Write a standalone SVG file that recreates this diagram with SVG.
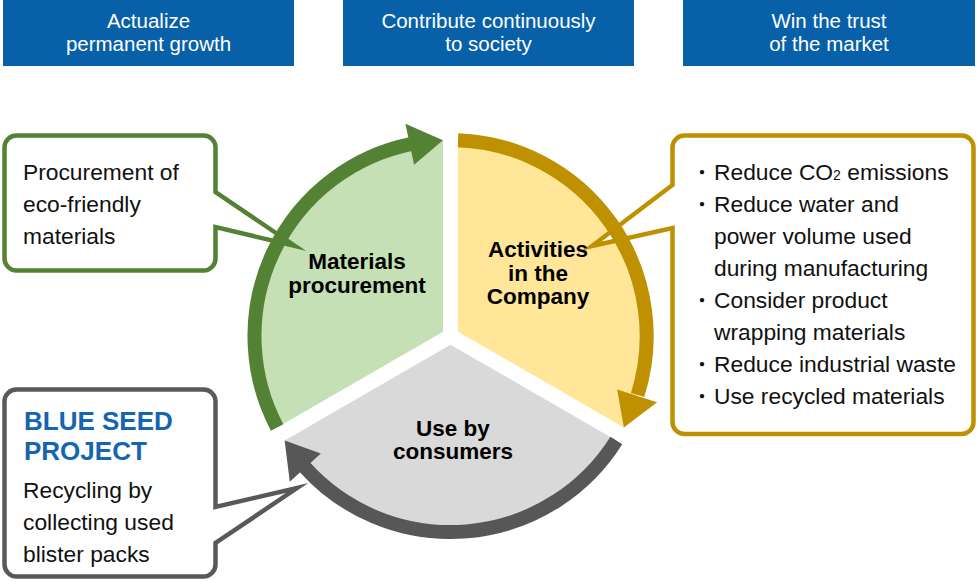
<svg xmlns="http://www.w3.org/2000/svg" width="977" height="582" viewBox="0 0 977 582">
<style>
.hdr{fill:#0860A8}
.ht{font-family:"Liberation Sans",Arial,sans-serif;font-size:20.5px;fill:#fff;text-anchor:middle}
.ct{font-family:"Liberation Sans",Arial,sans-serif;font-size:22.8px;fill:#111}
.lbl{font-family:"Liberation Sans",Arial,sans-serif;font-size:22.5px;font-weight:bold;fill:#000;text-anchor:middle}
.bul{font-family:"Noto Sans CJK JP",sans-serif;font-size:20px;fill:#111;text-anchor:middle}
.co{fill:#fff;stroke-width:4.5;stroke-linejoin:miter;stroke-miterlimit:12}
.band{fill:none;stroke-width:14}
</style>
<rect width="977" height="582" fill="#fff"/>
<g id="header-growth">
<rect class="hdr" x="3" y="0" width="291" height="66"/>
<text class="ht" x="148.5" y="28">Actualize</text>
<text class="ht" x="148.5" y="51">permanent growth</text>
</g>
<g id="header-society">
<rect class="hdr" x="343" y="0" width="291" height="66"/>
<text class="ht" x="488.5" y="28">Contribute continuously</text>
<text class="ht" x="488.5" y="51">to society</text>
</g>
<g id="header-market">
<rect class="hdr" x="683" y="0" width="292" height="66"/>
<text class="ht" x="829" y="28">Win the trust</text>
<text class="ht" x="829" y="51">of the market</text>
</g>
<g id="sector-materials">
<path d="M443 331.67 L443 140.14 A196 196 0 0 0 277.12 427.41 Z" fill="#C5E0B4"/>
</g>
<g id="sector-company">
<path d="M458 331.67 L458 140.14 A196 196 0 0 1 623.88 427.41 Z" fill="#FFE699"/>
</g>
<g id="sector-consumers">
<path d="M450.5 344.66 L616.35 440.45 A196 196 0 0 1 284.65 440.45 Z" fill="#D9D9D9"/>
</g>
<g id="callout-procurement">
<path class="co" stroke="#548235" d="M16.5 135.5 H203.5 A12 12 0 0 1 215.5 147.5 V192 L295 246 L215.5 227 V258.5 A12 12 0 0 1 203.5 270.5 H16.5 A12 12 0 0 1 4.5 258.5 V147.5 A12 12 0 0 1 16.5 135.5 Z"/>
<text class="ct" x="23" y="180">Procurement of</text>
<text class="ct" x="23" y="212">eco-friendly</text>
<text class="ct" x="23" y="244">materials</text>
</g>
<g id="callout-activities">
<path class="co" stroke="#BF9000" d="M684.5 135.5 H961.5 A12 12 0 0 1 973.5 147.5 V422 A12 12 0 0 1 961.5 434 H684.5 A12 12 0 0 1 672.5 422 V228 L592 246 L672.5 185 V147.5 A12 12 0 0 1 684.5 135.5 Z"/>
<text class="bul" x="702" y="180">・</text>
<text class="ct" x="714" y="180">Reduce CO<tspan font-size="14">2</tspan> emissions</text>
<text class="bul" x="702" y="212">・</text>
<text class="ct" x="714" y="212">Reduce water and</text>
<text class="ct" x="714" y="244">power volume used</text>
<text class="ct" x="714" y="276">during manufacturing</text>
<text class="bul" x="702" y="308">・</text>
<text class="ct" x="714" y="308">Consider product</text>
<text class="ct" x="714" y="340">wrapping materials</text>
<text class="bul" x="702" y="372">・</text>
<text class="ct" x="714" y="372">Reduce industrial waste</text>
<text class="bul" x="702" y="404">・</text>
<text class="ct" x="714" y="404">Use recycled materials</text>
</g>
<g id="callout-blueseed">
<path class="co" stroke="#595959" d="M16.5 389.5 H203.5 A12 12 0 0 1 215.5 401.5 V507 L297 488 L215.5 543 V564.5 A12 12 0 0 1 203.5 576.5 H16.5 A12 12 0 0 1 4.5 564.5 V401.5 A12 12 0 0 1 16.5 389.5 Z"/>
<text x="24" y="430" font-family="Liberation Sans, Arial, sans-serif" font-size="26" font-weight="bold" fill="#1565B0">BLUE SEED</text>
<text x="24" y="460" font-family="Liberation Sans, Arial, sans-serif" font-size="26" font-weight="bold" fill="#1565B0">PROJECT</text>
<text class="ct" x="23" y="498">Recycling by</text>
<text class="ct" x="23" y="530">collecting used</text>
<text class="ct" x="23" y="562">blister packs</text>
</g>
<g id="connectors">
<path class="band" stroke="#548235" d="M277.12 427.41 A196 196 0 0 1 410.5 144.1"/>
<polygon fill="#548235" points="414.12,164.83 405.39,123.75 442.98,140.15"/>
<path class="band" stroke="#BF9000" d="M458.02 140.15 A196 196 0 0 1 637.6 395.0"/>
<polygon fill="#BF9000" points="617.12,389.50 657.11,402.34 623.88,427.41"/>
<path class="band" stroke="#575757" d="M616.35 440.45 A196 196 0 0 1 304.6 467.0"/>
<polygon fill="#575757" points="320.86,453.55 289.75,481.76 284.65,440.45"/>
</g>
<g id="labels">
<text class="lbl" x="357" y="269">Materials</text>
<text class="lbl" x="357" y="293">procurement</text>
<text class="lbl" x="538" y="257">Activities</text>
<text class="lbl" x="538" y="281">in the</text>
<text class="lbl" x="538" y="304">Company</text>
<text class="lbl" x="453" y="436">Use by</text>
<text class="lbl" x="453" y="459">consumers</text>
</g>
</svg>
